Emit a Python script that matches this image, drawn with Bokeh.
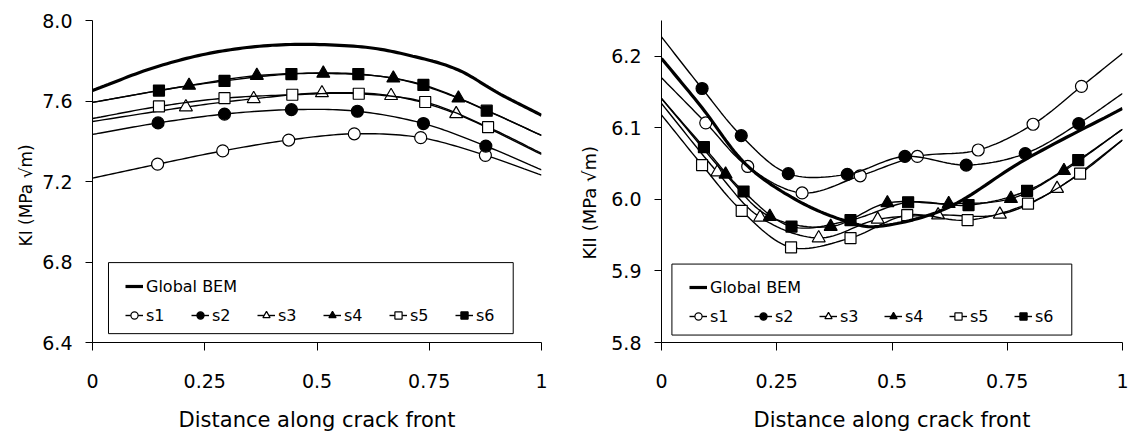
import numpy as np
from bokeh.plotting import figure
from bokeh.layouts import row
from bokeh.models import (Range1d, FixedTicker, NumeralTickFormatter, Legend,
                          LegendItem, BoxAnnotation, Title)
from bokeh.embed import file_html
from bokeh.resources import INLINE

# ---------------- data: left chart (KI) ----------------
ki_global_x = [0, 0.14, 0.28, 0.43, 0.60, 0.72, 0.815, 0.904, 1.0]
ki_global_y = [7.652, 7.768, 7.845, 7.880, 7.869, 7.819, 7.754, 7.639, 7.529]

ki_s1_x = [0, 0.145, 0.290, 0.437, 0.583, 0.731, 0.875, 1.0]
ki_s1_y = [7.217, 7.286, 7.352, 7.406, 7.437, 7.418, 7.330, 7.232]
ki_s2_x = [0, 0.146, 0.294, 0.443, 0.590, 0.737, 0.876, 1.0]
ki_s2_y = [7.434, 7.491, 7.535, 7.557, 7.549, 7.488, 7.376, 7.258]
ki_s3_x = [0, 0.208, 0.359, 0.511, 0.665, 0.810, 1.0]
ki_s3_y = [7.498, 7.570, 7.611, 7.640, 7.626, 7.536, 7.335]
ki_s4_x = [0, 0.215, 0.366, 0.514, 0.670, 0.815, 1.0]
ki_s4_y = [7.593, 7.677, 7.726, 7.737, 7.713, 7.614, 7.429]
ki_s5_x = [0, 0.148, 0.294, 0.445, 0.593, 0.741, 0.881, 1.0]
ki_s5_y = [7.513, 7.573, 7.614, 7.631, 7.636, 7.595, 7.470, 7.340]
ki_s6_x = [0, 0.148, 0.294, 0.443, 0.592, 0.737, 0.878, 1.0]
ki_s6_y = [7.593, 7.652, 7.700, 7.734, 7.734, 7.680, 7.552, 7.429]

# ---------------- data: right chart (KII) ----------------
kii_global_x = [0, 0.088, 0.183, 0.296, 0.404, 0.48, 0.623, 0.79, 1.0]
kii_global_y = [6.197, 6.128, 6.049, 5.998, 5.969, 5.963, 5.989, 6.056, 6.127]

kii_s1_x = [0, 0.096, 0.187, 0.305, 0.431, 0.555, 0.687, 0.806, 0.911, 1.0]
kii_s1_y = [6.170, 6.107, 6.046, 6.009, 6.033, 6.060, 6.069, 6.105, 6.158, 6.204]
kii_s2_x = [0, 0.088, 0.173, 0.275, 0.403, 0.528, 0.661, 0.789, 0.905, 1.0]
kii_s2_y = [6.227, 6.155, 6.089, 6.036, 6.035, 6.060, 6.048, 6.064, 6.106, 6.148]
kii_s3_x = [0, 0.121, 0.214, 0.341, 0.469, 0.600, 0.734, 0.858, 1.0]
kii_s3_y = [6.134, 6.038, 5.975, 5.946, 5.972, 5.978, 5.979, 6.015, 6.083]
kii_s4_x = [0, 0.139, 0.235, 0.367, 0.490, 0.623, 0.758, 0.873, 1.0]
kii_s4_y = [6.141, 6.035, 5.976, 5.962, 5.995, 5.994, 6.001, 6.040, 6.098]
kii_s5_x = [0, 0.088, 0.174, 0.281, 0.410, 0.533, 0.664, 0.795, 0.908, 1.0]
kii_s5_y = [6.118, 6.048, 5.984, 5.933, 5.946, 5.978, 5.971, 5.994, 6.036, 6.083]
kii_s6_x = [0, 0.092, 0.178, 0.282, 0.410, 0.535, 0.666, 0.793, 0.904, 1.0]
kii_s6_y = [6.141, 6.073, 6.011, 5.962, 5.971, 5.996, 5.992, 6.012, 6.055, 6.098]

x_tick_values = [0, 0.25, 0.5, 0.75, 1]
x_tick_labels = ["0", "0.25", "0.5", "0.75", "1"]
ki_y_ticks = [6.4, 6.8, 7.2, 7.6, 8.0]
kii_y_ticks = [5.8, 5.9, 6.0, 6.1, 6.2]
series_names = ["s1", "s2", "s3", "s4", "s5", "s6"]

FONT = "DejaVu Sans"


def smooth(xs, ys, n=16):
    """Catmull-Rom smoothed line through the given points (like a smoothed line)."""
    P = np.column_stack([xs, ys]).astype(float)
    P = np.vstack([2 * P[0] - P[1], P, 2 * P[-1] - P[-2]])
    t = np.linspace(0, 1, n, endpoint=False)[:, None]
    out = []
    for i in range(1, len(P) - 2):
        p0, p1, p2, p3 = P[i - 1], P[i], P[i + 1], P[i + 2]
        seg = 0.5 * (2 * p1 + (-p0 + p2) * t + (2 * p0 - 5 * p1 + 4 * p2 - p3) * t ** 2
                     + (-p0 + 3 * p1 - 3 * p2 + p3) * t ** 3)
        out.append(seg)
    out.append(P[-2][None, :])
    a = np.vstack(out)
    return a[:, 0], a[:, 1]


MARKERS = {
    "s1": ("circle", "white", 12),
    "s2": ("circle", "black", 12),
    "s3": ("triangle", "white", 13),
    "s4": ("triangle", "black", 13),
    "s5": ("square", "white", 11),
    "s6": ("square", "black", 11),
}


def make_plot(width, height, bl, br, bt, bb, y0, y1, yticks, ylabel, ylab_standoff,
              ylab_offset, ylab_size, gx, gy, series, box, leg_x, leg_yA, leg_yB, label_w):
    p = figure(width=width, height=height, output_backend="svg", toolbar_location=None,
               x_range=Range1d(0, 1), y_range=Range1d(y0, y1),
               min_border_left=bl, min_border_right=br, min_border_top=bt,
               min_border_bottom=bb)
    p.outline_line_color = None
    p.grid.visible = False
    p.background_fill_color = "white"
    p.border_fill_color = "white"

    # axes
    p.xaxis.ticker = FixedTicker(ticks=x_tick_values)
    p.xaxis.major_label_overrides = {v: s for v, s in zip(x_tick_values, x_tick_labels)}
    p.yaxis.ticker = FixedTicker(ticks=yticks)
    p.yaxis.formatter = NumeralTickFormatter(format="0.0")
    for ax in (p.xaxis[0], p.yaxis[0]):
        ax.axis_line_color = "black"
        ax.axis_line_width = 1
        ax.major_tick_line_color = "black"
        ax.major_tick_in = 0
        ax.minor_tick_line_color = None
        ax.major_label_text_font = FONT
        ax.major_label_text_font_size = "19px"
        ax.major_label_text_color = "black"
        ax.axis_label_text_font = FONT
        ax.axis_label_text_font_style = "normal"
        ax.axis_label_text_color = "black"
    p.xaxis.major_tick_out = 8
    p.yaxis.major_tick_out = 7
    p.xaxis.major_label_standoff = 23
    p.yaxis.major_label_standoff = 13
    p.xaxis.axis_label = "Distance along crack front"
    p.xaxis.axis_label_text_font_size = "21px"
    p.xaxis.axis_label_standoff = 17

    # y-axis title as a side title (start-aligned so it can be shifted along the axis)
    p.add_layout(Title(text=ylabel, align="left", offset=ylab_offset,
                       standoff=ylab_standoff, text_font=FONT,
                       text_font_size=ylab_size, text_font_style="normal",
                       text_color="black"), "left")

    # series
    items = []
    for name, (xs, ys) in zip(series_names, series):
        sx, sy = smooth(xs, ys)
        lr = p.line(sx, sy, line_color="black", line_width=1.4)
        mk, fill, size = MARKERS[name]
        mr = p.scatter(xs[1:-1], ys[1:-1], marker=mk, size=size, fill_color=fill,
                       line_color="black", line_width=1.2)
        items.append(LegendItem(label=name, renderers=[lr, mr]))
    gxs, gys = smooth(gx, gy)
    gr = p.line(gxs, gys, line_color="black", line_width=3.2)

    # legend box
    bx = BoxAnnotation(left=box[0], right=box[1], bottom=box[2], top=box[3],
                       fill_color="white", fill_alpha=1.0, line_color="black",
                       line_width=1, line_alpha=1.0)
    p.add_layout(bx)

    common = dict(padding=0, margin=0, glyph_width=18, glyph_height=20,
                  label_standoff=3, label_text_font=FONT,
                  label_text_font_size="16px", label_text_color="black",
                  border_line_color=None, background_fill_alpha=0.0,
                  label_height=20)
    legA = Legend(items=[LegendItem(label="Global BEM", renderers=[gr])],
                  location=(leg_x, leg_yA), **common)
    legB = Legend(items=items, location=(leg_x, leg_yB), orientation="horizontal",
                  spacing=5, label_width=label_w, **common)
    p.add_layout(legA)
    p.add_layout(legB)
    return p


ki_series = [(ki_s1_x, ki_s1_y), (ki_s2_x, ki_s2_y), (ki_s3_x, ki_s3_y),
             (ki_s4_x, ki_s4_y), (ki_s5_x, ki_s5_y), (ki_s6_x, ki_s6_y)]
kii_series = [(kii_s1_x, kii_s1_y), (kii_s2_x, kii_s2_y), (kii_s3_x, kii_s3_y),
              (kii_s4_x, kii_s4_y), (kii_s5_x, kii_s5_y), (kii_s6_x, kii_s6_y)]

p1 = make_plot(568, 434, 92, 27, 20, 89, 6.4, 8.0, ki_y_ticks, "KI (MPa √m)",
               8, 96, "17px",
               ki_global_x, ki_global_y, ki_series,
               (0.0356, 0.937, 6.444, 6.797), 33, 46, 17, 40)
p2 = make_plot(563, 434, 89, 9, 18, 90, 5.8, 6.25, kii_y_ticks, "KII (MPa √m)",
               17, 83, "18px",
               kii_global_x, kii_global_y, kii_series,
               (0.0226, 0.890, 5.8104, 5.9096), 28, 45, 16, 39)

layout = row(p1, p2)
open("out.html", "w").write(file_html(layout, INLINE))
